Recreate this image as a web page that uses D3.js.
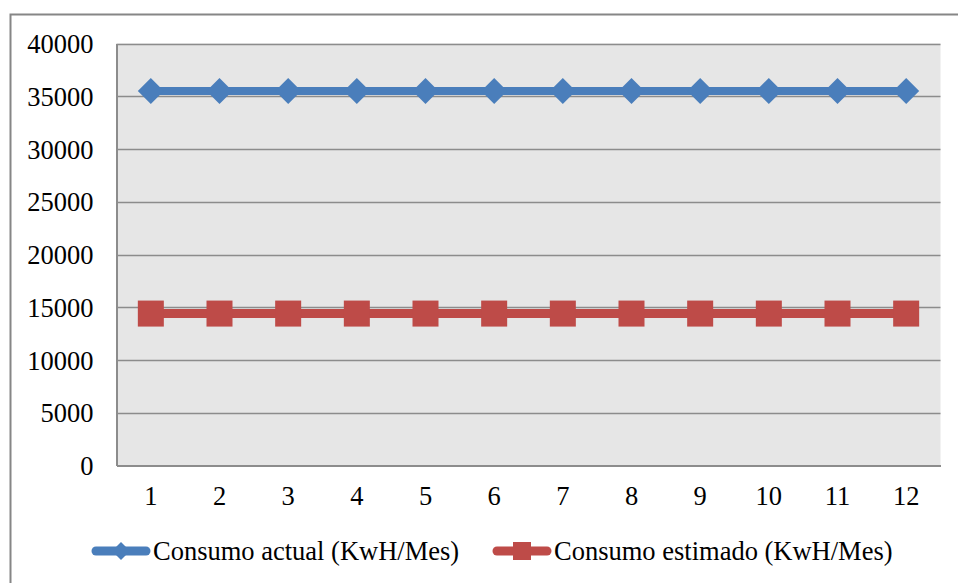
<!DOCTYPE html>
<html>
<head>
<meta charset="utf-8">
<script src="https://cdn.jsdelivr.net/npm/d3@7"></script>
<style>
  html, body { margin: 0; padding: 0; background: #fff; }
  svg { display: block; }
  svg text { font-family: "Times New Roman", "Liberation Serif", Times, serif !important; fill: #000; }
</style>
</head>
<body>
<svg id="chart" width="958" height="583"></svg>
<script>
// Monthly consumption, months 1..12
const months = [1, 2, 3, 4, 5, 6, 7, 8, 9, 10, 11, 12];
const consumoActual = [35500, 35500, 35500, 35500, 35500, 35500, 35500, 35500, 35500, 35500, 35500, 35500];
const consumoEstimado = [14400, 14400, 14400, 14400, 14400, 14400, 14400, 14400, 14400, 14400, 14400, 14400];
const yTicks = [0, 5000, 10000, 15000, 20000, 25000, 30000, 35000, 40000];
const seriesNames = ["Consumo actual (KwH/Mes)", "Consumo estimado (KwH/Mes)"];

const svg = d3.select("#chart");
const W = 958, H = 583;
const fontSize = "26.5px";

// outer chart frame
svg.append("rect")
  .attr("x", 10.5).attr("y", 14.5)
  .attr("width", W + 10).attr("height", H + 10)
  .attr("fill", "#fff").attr("stroke", "#868686").attr("stroke-width", 2);

const plot = { left: 116.5, top: 43.5, right: 940.5, bottom: 465.5 };

const x = d3.scaleBand().domain(months).range([plot.left, plot.right]).padding(0);
const y = d3.scaleLinear().domain([0, 40000]).range([plot.bottom, plot.top]);

// plot background
svg.append("rect")
  .attr("x", plot.left).attr("y", plot.top)
  .attr("width", plot.right - plot.left).attr("height", plot.bottom - plot.top)
  .attr("fill", "#e6e6e6");

// horizontal gridlines
svg.append("g")
  .selectAll("line")
  .data(yTicks.filter(d => d > 0))
  .join("line")
  .attr("x1", plot.left).attr("x2", plot.right)
  .attr("y1", d => Math.round(y(d)) + 0.5).attr("y2", d => Math.round(y(d)) + 0.5)
  .attr("stroke", "#8c8c8c").attr("stroke-width", 1.5);

// y axis
const yAxis = svg.append("g")
  .attr("transform", `translate(${plot.left},0)`)
  .call(d3.axisLeft(y).tickValues(yTicks).tickSize(0).tickPadding(23).tickFormat(d3.format("d")));
yAxis.attr("font-family", null).attr("font-size", null);
yAxis.select(".domain").attr("stroke", "#8c8c8c").attr("stroke-width", 2);
yAxis.selectAll("text").style("font-size", fontSize).attr("dy", "0.34em");

// x axis
const xAxis = svg.append("g")
  .attr("transform", `translate(0,${plot.bottom})`)
  .call(d3.axisBottom(x).tickSize(0).tickPadding(21));
xAxis.attr("font-family", null).attr("font-size", null);
xAxis.select(".domain").attr("stroke", "#8c8c8c").attr("stroke-width", 2);
xAxis.selectAll("text").style("font-size", fontSize);

const cx = m => x(m) + x.bandwidth() / 2;
const line = d3.line().x((d, i) => cx(months[i])).y(d => y(d));

const blue = "#4a7ebb", red = "#be4b48";

// Series 1: line with diamond markers
svg.append("path").datum(consumoActual)
  .attr("d", line).attr("fill", "none")
  .attr("stroke", blue).attr("stroke-width", 8);
svg.append("g").selectAll("path")
  .data(consumoActual)
  .join("path")
  .attr("transform", (d, i) => `translate(${cx(months[i])},${y(d)})`)
  .attr("d", "M0,-13L13,0L0,13L-13,0Z")
  .attr("fill", blue);

// Series 2: line with square markers
svg.append("path").datum(consumoEstimado)
  .attr("d", line).attr("fill", "none")
  .attr("stroke", red).attr("stroke-width", 9);
svg.append("g").selectAll("rect")
  .data(consumoEstimado)
  .join("rect")
  .attr("x", (d, i) => cx(months[i]) - 13)
  .attr("y", d => y(d) - 13)
  .attr("width", 26).attr("height", 26)
  .attr("fill", red);

// legend
const legY = 551;
const leg = svg.append("g");
const items = [
  { name: seriesNames[0], color: blue, x0: 92, x1: 150, tx: 153, marker: "diamond" },
  { name: seriesNames[1], color: red, x0: 493, x1: 551, tx: 554, marker: "square" }
];
items.forEach(it => {
  leg.append("line")
    .attr("x1", it.x0 + 4).attr("x2", it.x1 - 4)
    .attr("y1", legY).attr("y2", legY)
    .attr("stroke", it.color).attr("stroke-width", 9).attr("stroke-linecap", "round");
  const mx = (it.x0 + it.x1) / 2;
  if (it.marker === "diamond") {
    leg.append("path").attr("transform", `translate(${mx},${legY})`)
      .attr("d", "M0,-9L9,0L0,9L-9,0Z").attr("fill", it.color);
  } else {
    leg.append("rect").attr("x", mx - 9).attr("y", legY - 9)
      .attr("width", 18).attr("height", 18).attr("fill", it.color);
  }
  leg.append("text")
    .attr("x", it.tx).attr("y", legY).attr("dy", "0.34em")
    .style("font-size", fontSize)
    .text(it.name);
});
</script>
</body>
</html>
